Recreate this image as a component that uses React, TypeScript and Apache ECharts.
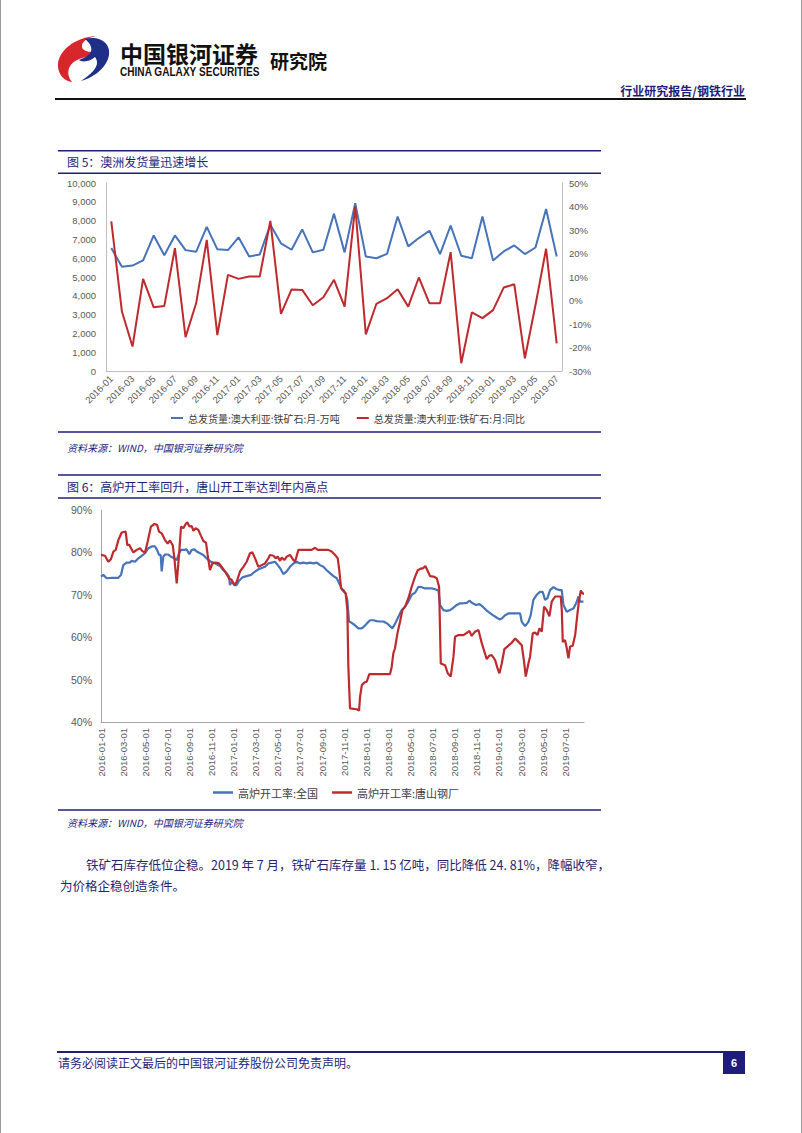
import React, { useEffect, useRef } from 'react';
import * as echarts from 'echarts';

// ---------- Figure 5: Australian iron ore shipments ----------
const shipMonths = [
  '2016-01','2016-02','2016-03','2016-04','2016-05','2016-06','2016-07','2016-08','2016-09','2016-10','2016-11','2016-12',
  '2017-01','2017-02','2017-03','2017-04','2017-05','2017-06','2017-07','2017-08','2017-09','2017-10','2017-11','2017-12',
  '2018-01','2018-02','2018-03','2018-04','2018-05','2018-06','2018-07','2018-08','2018-09','2018-10','2018-11','2018-12',
  '2019-01','2019-02','2019-03','2019-04','2019-05','2019-06','2019-07'
];
// 万吨
const shipments = [
  6540, 5540, 5610, 5880, 7210, 6160, 7210, 6430, 6340, 7670, 6470, 6430,
  7110, 6090, 6200, 7780, 6790, 6450, 7530, 6310, 6450, 8370, 6310, 8930,
  6090, 6000, 6230, 8220, 6630, 7070, 7460, 6220, 7740, 6130, 6000, 8220,
  5880, 6360, 6680, 6220, 6570, 8620, 6090
];
// 同比 %
const shipmentsYoY = [
  33.7, -4.7, -19.6, 9.2, -2.9, -2.3, 22.3, -15.6, -1.2, 25.8, -14.7, 10.9,
  9.2, 10.2, 10.2, 33.9, -5.7, 4.7, 4.5, -2.0, 1.4, 8.8, -2.6, 40.1,
  -14.4, -1.4, 1.0, 4.8, -2.6, 9.8, -1.2, -1.2, 20.6, -26.7, -5.1, -7.5,
  -4.1, 5.5, 6.9, -24.6, -1.9, 22.0, -18.2
];
const SHIP_NAME = '总发货量:澳大利亚:铁矿石:月-万吨';
const YOY_NAME = '总发货量:澳大利亚:铁矿石:月:同比';

// ---------- Figure 6: blast furnace operating rates ----------
// x = months elapsed since 2016-01-01
const nationalMonth = [
  0,0.21,0.51,0.97,1.57,1.81,2.02,2.32,2.62,2.78,
  3.08,3.38,3.68,3.98,4.28,4.59,4.89,5.07,5.25,5.4,
  5.49,5.64,5.79,6.09,6.33,6.64,6.85,7.06,7.24,7.54,
  7.75,7.99,8.21,8.45,8.66,8.96,9.26,9.47,9.71,9.95,
  10.17,10.47,10.77,11.07,11.37,11.58,11.67,11.83,12.07,12.28,
  12.49,12.79,13.18,13.57,13.94,14.24,14.54,14.84,15.14,15.44,
  15.75,15.99,16.2,16.5,16.8,17.1,17.41,17.71,18.01,18.31,
  18.61,18.91,19.22,19.52,19.82,20.12,20.42,20.72,21.03,21.33,
  21.63,21.84,22.14,22.29,22.44,22.68,22.93,23.29,23.6,23.83,
  24.04,24.34,24.65,24.95,25.25,25.55,25.86,26.15,26.37,26.61,
  26.91,27.21,27.51,27.81,28.11,28.42,28.72,29.02,29.32,29.63,
  29.93,30.23,30.53,30.68,30.98,31.28,31.58,31.89,32.19,32.49,
  32.79,33.09,33.33,33.63,33.94,34.24,34.54,34.84,35.14,35.45,
  35.75,36.05,36.26,36.56,36.86,37.16,37.47,37.92,38.07,38.37,
  38.67,38.88,39.12,39.42,39.72,39.96,40.18,40.39,40.63,40.93,
  41.24,41.54,41.69,41.84,42.14,42.44,42.75,42.99,43.2,43.35,
  43.65
];
const nationalRate = [
  74.3,74.7,73.9,74.0,74.0,74.7,77.0,77.6,77.6,78.0,
  77.8,78.6,79.2,79.8,81.0,81.4,81.4,80.6,79.4,79.4,
  75.5,79.0,79.5,79.5,79.0,78.6,78.2,79.8,80.6,80.6,
  80.7,79.6,80.6,80.7,80.2,79.8,79.4,78.8,78.2,77.8,
  77.6,77.2,76.8,75.8,75.1,74.3,72.3,73.1,72.3,72.3,
  73.3,74.1,74.4,74.7,75.5,76.0,76.3,76.6,77.4,77.6,
  77.8,77.0,76.3,74.9,75.5,76.6,77.4,77.8,77.4,77.6,
  77.4,77.6,77.4,77.6,77.0,76.6,75.8,75.1,74.4,73.9,
  72.3,71.1,70.3,68.7,63.7,63.4,62.9,62.1,62.1,62.6,
  63.2,64.0,64.0,63.8,63.7,63.7,63.3,62.6,62.1,63.2,
  64.8,66.4,67.2,68.4,70.0,70.5,71.9,71.8,71.5,71.5,
  71.5,71.3,71.0,67.6,66.4,66.2,66.4,67.0,67.6,68.0,
  68.0,68.1,68.6,68.0,67.6,67.8,67.2,66.4,65.8,65.2,
  64.7,64.2,64.4,65.2,65.6,65.6,65.6,65.6,63.6,62.6,
  63.6,65.2,68.8,70.0,70.7,70.7,68.8,69.2,71.1,71.8,
  71.3,71.1,71.1,67.6,66.0,66.4,66.8,68.0,69.6,68.4,
  68.4
];
const tangshanMonth = [
  0,0.36,0.66,0.9,1.12,1.33,1.57,1.87,2.23,2.38,
  2.56,2.71,2.93,3.23,3.53,3.74,3.98,4.22,4.52,4.83,
  5.07,5.25,5.49,5.79,6.03,6.24,6.49,6.64,6.85,7.06,
  7.24,7.45,7.66,7.81,8.0,8.21,8.36,8.57,8.81,9.05,
  9.26,9.5,9.65,9.86,10.08,10.38,10.68,10.92,11.22,11.58,
  11.83,12.07,12.28,12.58,12.88,13.18,13.48,13.7,13.94,14.24,
  14.54,14.84,15.14,15.29,15.6,15.81,15.99,16.2,16.35,16.59,
  16.8,17.1,17.41,17.56,17.86,19.06,19.37,19.61,20.57,20.87,
  21.18,21.42,21.57,21.72,21.93,22.14,22.29,22.38,22.53,23.14,
  23.35,23.44,23.6,23.83,24.04,24.28,26.15,26.3,26.45,26.6,
  26.82,27.06,27.27,27.51,27.81,28.11,28.42,28.66,28.87,29.17,
  29.35,29.53,29.77,30.08,30.38,30.59,30.74,31.13,31.37,31.64,
  31.89,32.03,32.34,32.79,33.15,33.33,33.54,33.84,34.15,34.45,
  34.9,35.11,35.35,35.66,35.87,36.05,36.26,36.5,36.86,37.16,
  37.47,37.77,38.07,38.28,38.43,38.67,38.82,39.06,39.27,39.49,
  39.67,39.88,40.09,40.33,40.57,40.78,41.09,41.6,41.69,41.78,
  41.99,42.14,42.29,42.44,42.68,42.9,43.11,43.26,43.41,43.59,
  43.7
];
const tangshanRate = [
  79.4,79.2,77.8,78.4,80.2,80.6,82.9,84.7,84.9,81.7,
  81.8,81.0,80.0,80.6,81.0,80.3,80.0,82.5,86.1,86.7,
  86.5,84.9,84.5,82.9,82.1,82.8,81.7,78.6,72.7,79.4,
  86.1,85.7,86.7,87.1,86.1,86.2,85.1,85.7,85.3,83.9,
  82.7,82.3,79.4,75.8,77.4,77.6,77.4,76.6,75.5,73.9,
  73.5,72.3,73.1,75.5,76.6,77.8,79.8,80.0,78.6,76.6,
  77.0,77.4,78.6,79.4,79.2,78.6,79.0,78.0,78.8,78.2,
  79.0,79.4,78.2,77.8,80.6,80.6,81.1,80.6,80.6,80.2,
  79.4,78.6,75.5,71.5,71.1,70.3,66.4,53.0,43.2,43.0,
  42.7,46.0,48.7,49.3,49.5,51.3,51.3,53.0,56.2,57.4,
  60.9,63.7,66.4,67.2,69.2,71.9,74.3,75.8,76.1,76.3,
  76.8,75.8,74.4,74.3,73.9,71.9,53.8,53.4,51.5,50.7,
  55.4,60.1,60.5,60.5,61.1,61.5,60.3,61.3,61.7,58.6,
  54.8,55.6,55.8,54.6,52.7,51.5,53.8,57.2,58.0,58.7,
  59.7,58.9,58.1,54.2,50.7,53.8,55.4,60.9,61.1,60.5,
  62.1,61.3,67.2,66.4,64.9,68.4,69.6,69.6,66.4,58.9,
  59.3,57.4,55.0,57.8,58.0,60.5,65.6,68.8,71.0,70.3,
  70.3
];
const NAT_NAME = '高炉开工率:全国';
const TS_NAME = '高炉开工率:唐山钢厂';

const NAVY = '#1E1E7A';
const BLUE = '#4673B9';
const RED = '#BE2A2E';
const AXIS_GRAY = '#BFBFBF';
const LABEL_GRAY = '#595959';
const CJK = '"Noto Sans CJK SC", "Noto Sans", sans-serif';
const LATIN = '"Liberation Sans", Arial, sans-serif';

const redLogo =
  'M42 1 C20 2 2 16 3 32 C4 41 10 46 17 47 C11 40 12 30 22 25 C30 21 38 22 40 16 C34 18 26 16 27 10 C28 5 35 2 42 1 Z';
const blueLogo =
  'M30 4 C44 0 56 8 54 20 C52 32 40 42 26 46 C38 38 46 30 40 22 C36 26 28 28 24 25 C32 22 38 18 36 12 C35 8 32 6 30 4 Z';

function monthLabel(v: number): string {
  const r = Math.round(v);
  if (Math.abs(v - r) > 1e-6 || r % 2 !== 0) return '';
  const y = 2016 + Math.floor(r / 12);
  const m = (r % 12) + 1;
  return `${y}-${m < 10 ? '0' + m : m}-01`;
}

function txt(x: number, y: number, text: string, o: any = {}) {
  return {
    type: 'text',
    x,
    y,
    silent: true,
    scaleX: o.scaleX ?? 1,
    style: {
      text,
      fill: o.fill ?? NAVY,
      fontSize: o.fontSize ?? 12,
      fontFamily: o.fontFamily ?? CJK,
      fontWeight: o.fontWeight ?? 'normal',
      fontStyle: o.fontStyle ?? 'normal',
      align: o.align ?? 'left',
      verticalAlign: 'middle',
    },
  };
}
function hline(x1: number, x2: number, y: number, stroke: string, lineWidth: number) {
  return { type: 'line', silent: true, shape: { x1, y1: y, x2, y2: y }, style: { stroke, lineWidth } };
}

export default function App() {
  const ref = useRef<HTMLDivElement>(null);
  useEffect(() => {
    if (!ref.current) return;
    try {
      echarts.graphic.registerShape('galaxyRed', echarts.graphic.extendPath(redLogo, {}));
      echarts.graphic.registerShape('galaxyBlue', echarts.graphic.extendPath(blueLogo, {}));
    } catch (e) {}
    const chart = echarts.init(ref.current, null, { renderer: 'svg' });
    const nat = nationalMonth.map((m, i) => [m, nationalRate[i]]);
    const ts = tangshanMonth.map((m, i) => [m, tangshanRate[i]]);

    const option: any = {
      animation: false,
      backgroundColor: '#ffffff',
      grid: [
        { left: 106, top: 183, width: 456, height: 188, containLabel: false },
        { left: 101, top: 510, width: 483, height: 212, containLabel: false },
      ],
      legend: [
        {
          data: [SHIP_NAME, YOY_NAME],
          left: 166,
          top: 408,
          icon: 'rect',
          itemWidth: 12,
          itemHeight: 2,
          itemGap: 17,
          textStyle: { fontFamily: CJK, fontSize: 10, color: '#404040' },
        },
        {
          data: [NAT_NAME, TS_NAME],
          left: 208,
          top: 782,
          icon: 'rect',
          itemWidth: 20,
          itemHeight: 2.5,
          itemGap: 14,
          textStyle: { fontFamily: CJK, fontSize: 11, color: '#404040' },
        },
      ],
      xAxis: [
        {
          type: 'category',
          gridIndex: 0,
          data: shipMonths,
          boundaryGap: true,
          axisLine: { onZero: false, lineStyle: { color: AXIS_GRAY, width: 1 } },
          axisTick: { show: false },
          axisLabel: { interval: 1, rotate: 45, margin: 6, fontSize: 9.5, fontFamily: LATIN, color: LABEL_GRAY },
          splitLine: { show: false },
        },
        {
          type: 'value',
          gridIndex: 1,
          min: 0,
          max: 43.7,
          interval: 2,
          axisLine: { show: true, onZero: false, lineStyle: { color: '#A6A6A6', width: 1 } },
          axisTick: { show: false },
          axisLabel: {
            rotate: 90,
            margin: 6,
            fontSize: 9.5,
            fontFamily: LATIN,
            color: LABEL_GRAY,
            showMaxLabel: false,
            formatter: (v: number) => monthLabel(v),
          },
          splitLine: { show: false },
        },
      ],
      yAxis: [
        {
          type: 'value',
          gridIndex: 0,
          position: 'left',
          min: 0,
          max: 10000,
          interval: 1000,
          axisLine: { show: true, lineStyle: { color: AXIS_GRAY } },
          axisTick: { show: false },
          splitLine: { show: false },
          axisLabel: {
            margin: 10,
            fontSize: 9.5,
            fontFamily: LATIN,
            color: LABEL_GRAY,
            formatter: (v: number) => v.toLocaleString('en-US'),
          },
        },
        {
          type: 'value',
          gridIndex: 0,
          position: 'right',
          min: -30,
          max: 50,
          interval: 10,
          axisLine: { show: true, lineStyle: { color: AXIS_GRAY } },
          axisTick: { show: false },
          splitLine: { show: false },
          axisLabel: { margin: 7, fontSize: 9.5, fontFamily: LATIN, color: LABEL_GRAY, formatter: '{value}%' },
        },
        {
          type: 'value',
          gridIndex: 1,
          min: 40,
          max: 90,
          interval: 10,
          axisLine: { show: true, lineStyle: { color: '#A6A6A6' } },
          axisTick: { show: false },
          splitLine: { show: false },
          axisLabel: { margin: 9, fontSize: 10.5, fontFamily: LATIN, color: LABEL_GRAY, formatter: '{value}%' },
        },
      ],
      series: [
        {
          name: SHIP_NAME, type: 'line', xAxisIndex: 0, yAxisIndex: 0, data: shipments,
          symbol: 'none', color: BLUE, lineStyle: { width: 2, color: BLUE },
        },
        {
          name: YOY_NAME, type: 'line', xAxisIndex: 0, yAxisIndex: 1, data: shipmentsYoY,
          symbol: 'none', color: RED, lineStyle: { width: 2, color: RED },
        },
        {
          name: NAT_NAME, type: 'line', xAxisIndex: 1, yAxisIndex: 2, data: nat,
          symbol: 'none', color: BLUE, lineStyle: { width: 2.2, color: BLUE },
        },
        {
          name: TS_NAME, type: 'line', xAxisIndex: 1, yAxisIndex: 2, data: ts,
          symbol: 'none', color: RED, lineStyle: { width: 2.2, color: RED },
        },
      ],
      graphic: [
        // page edges
        { type: 'line', silent: true, shape: { x1: 0.5, y1: 0, x2: 0.5, y2: 1133 }, style: { stroke: '#9a9a9a', lineWidth: 1 } },
        { type: 'line', silent: true, shape: { x1: 801.5, y1: 0, x2: 801.5, y2: 1133 }, style: { stroke: '#9a9a9a', lineWidth: 1 } },
        // header logo
        { type: 'galaxyRed', x: 55, y: 35, silent: true, style: { fill: '#D7262C' } },
        { type: 'galaxyBlue', x: 55, y: 35, silent: true, style: { fill: '#1F2E86' } },
        txt(120, 53, '中国银河证券', { fill: '#111111', fontSize: 23, fontWeight: 'bold' }),
        txt(120, 72, 'CHINA GALAXY SECURITIES', { fill: '#111111', fontSize: 12, fontWeight: 'bold', fontFamily: LATIN, scaleX: 0.84 }),
        txt(270, 60, '研究院', { fill: '#111111', fontSize: 19, fontWeight: 'bold' }),
        txt(745, 90, '行业研究报告/钢铁行业', { fill: NAVY, fontSize: 12, fontWeight: 'bold', align: 'right' }),
        hline(55, 746, 99, '#111111', 2),
        // figure 5 frame
        hline(58, 601, 150.7, NAVY, 1.5),
        txt(67, 161.7, '图 5：澳洲发货量迅速增长', { fontSize: 12 }),
        hline(58, 601, 173.3, NAVY, 1.5),
        hline(58, 601, 432, NAVY, 1.5),
        txt(67, 447, '资料来源：WIND，中国银河证券研究院', { fontSize: 10, fontStyle: 'italic' }),
        // figure 6 frame
        hline(58, 601, 475, NAVY, 1.5),
        txt(67, 486.7, '图 6：高炉开工率回升，唐山开工率达到年内高点', { fontSize: 12 }),
        hline(58, 601, 498, NAVY, 1.5),
        hline(58, 601, 810, NAVY, 1.5),
        txt(67, 822.5, '资料来源：WIND，中国银河证券研究院', { fontSize: 10, fontStyle: 'italic' }),
        // paragraph
        txt(86, 864, '铁矿石库存低位企稳。2019 年 7 月，铁矿石库存量 1. 15 亿吨，同比降低 24. 81%，降幅收窄，', { fontSize: 12.5, fill: '#26246E' }),
        txt(60, 885, '为价格企稳创造条件。', { fontSize: 12.5, fill: '#26246E' }),
        // footer
        hline(57, 745, 1052, NAVY, 2),
        txt(58, 1062, '请务必阅读正文最后的中国银河证券股份公司免责声明。', { fontSize: 12 }),
        { type: 'rect', silent: true, shape: { x: 723, y: 1052, width: 22, height: 22 }, style: { fill: NAVY } },
        txt(734, 1063, '6', { fill: '#ffffff', fontSize: 11, fontWeight: 'bold', fontFamily: LATIN, align: 'center' }),
      ],
    };
    chart.setOption(option);
    return () => chart.dispose();
  }, []);
  return (
    <div
      ref={ref}
      style={{ position: 'absolute', left: 0, top: 0, width: 802, height: 1133, background: '#ffffff' }}
    />
  );
}
